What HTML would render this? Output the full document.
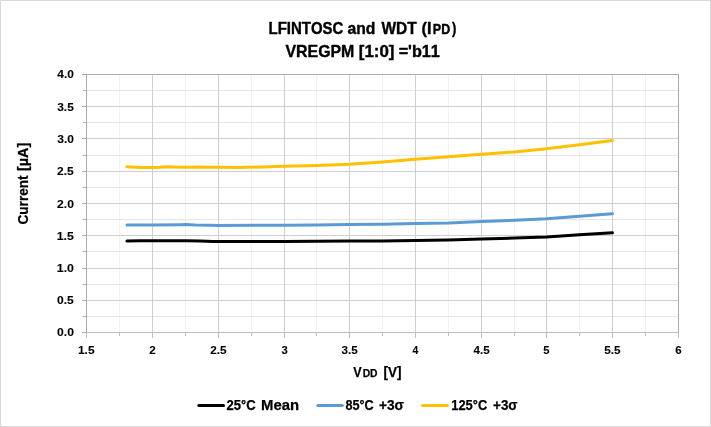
<!DOCTYPE html>
<html><head><meta charset="utf-8"><title>LFINTOSC and WDT (IPD)</title>
<style>html,body{margin:0;padding:0;background:#fff}svg{display:block}</style></head>
<body><svg width="711" height="427" viewBox="0 0 711 427">
<rect x="0.5" y="0.5" width="710" height="426" fill="#fff" stroke="#D9D9D9" stroke-width="1"/>
<g fill="none" stroke-width="1" shape-rendering="crispEdges"><path d="M119.5 74.5V332.5" stroke="#F2F2F2"/><path d="M185.5 74.5V332.5" stroke="#F2F2F2"/><path d="M251.5 74.5V332.5" stroke="#F2F2F2"/><path d="M316.5 74.5V332.5" stroke="#F2F2F2"/><path d="M382.5 74.5V332.5" stroke="#F2F2F2"/><path d="M448.5 74.5V332.5" stroke="#F2F2F2"/><path d="M514.5 74.5V332.5" stroke="#F2F2F2"/><path d="M579.5 74.5V332.5" stroke="#F2F2F2"/><path d="M645.5 74.5V332.5" stroke="#F2F2F2"/><path d="M86.5 316.5H678.5" stroke="#E7E6E6"/><path d="M86.5 284.5H678.5" stroke="#E7E6E6"/><path d="M86.5 251.5H678.5" stroke="#E7E6E6"/><path d="M86.5 219.5H678.5" stroke="#E7E6E6"/><path d="M86.5 187.5H678.5" stroke="#E7E6E6"/><path d="M86.5 155.5H678.5" stroke="#E7E6E6"/><path d="M86.5 122.5H678.5" stroke="#E7E6E6"/><path d="M86.5 90.5H678.5" stroke="#E7E6E6"/><path d="M152.5 74.5V332.5" stroke="#D0CECE"/><path d="M218.5 74.5V332.5" stroke="#D0CECE"/><path d="M284.5 74.5V332.5" stroke="#D0CECE"/><path d="M349.5 74.5V332.5" stroke="#D0CECE"/><path d="M415.5 74.5V332.5" stroke="#D0CECE"/><path d="M481.5 74.5V332.5" stroke="#D0CECE"/><path d="M546.5 74.5V332.5" stroke="#D0CECE"/><path d="M612.5 74.5V332.5" stroke="#D0CECE"/><path d="M86.5 300.5H678.5" stroke="#D0CECE"/><path d="M86.5 268.5H678.5" stroke="#D0CECE"/><path d="M86.5 235.5H678.5" stroke="#D0CECE"/><path d="M86.5 203.5H678.5" stroke="#D0CECE"/><path d="M86.5 171.5H678.5" stroke="#D0CECE"/><path d="M86.5 138.5H678.5" stroke="#D0CECE"/><path d="M86.5 106.5H678.5" stroke="#D0CECE"/><path d="M86.5 332.5v5.5" stroke="#BFBDBD"/><path d="M119.5 332.5v3.5" stroke="#BFBDBD"/><path d="M152.5 332.5v5.5" stroke="#BFBDBD"/><path d="M185.5 332.5v3.5" stroke="#BFBDBD"/><path d="M218.5 332.5v5.5" stroke="#BFBDBD"/><path d="M251.5 332.5v3.5" stroke="#BFBDBD"/><path d="M284.5 332.5v5.5" stroke="#BFBDBD"/><path d="M316.5 332.5v3.5" stroke="#BFBDBD"/><path d="M349.5 332.5v5.5" stroke="#BFBDBD"/><path d="M382.5 332.5v3.5" stroke="#BFBDBD"/><path d="M415.5 332.5v5.5" stroke="#BFBDBD"/><path d="M448.5 332.5v3.5" stroke="#BFBDBD"/><path d="M481.5 332.5v5.5" stroke="#BFBDBD"/><path d="M514.5 332.5v3.5" stroke="#BFBDBD"/><path d="M546.5 332.5v5.5" stroke="#BFBDBD"/><path d="M579.5 332.5v3.5" stroke="#BFBDBD"/><path d="M612.5 332.5v5.5" stroke="#BFBDBD"/><path d="M645.5 332.5v3.5" stroke="#BFBDBD"/><path d="M678.5 332.5v5.5" stroke="#BFBDBD"/><path d="M86.5 332.5h-4.5" stroke="#AEAAAA"/><path d="M86.5 316.5h-3.5" stroke="#AEAAAA"/><path d="M86.5 300.5h-4.5" stroke="#AEAAAA"/><path d="M86.5 284.5h-3.5" stroke="#AEAAAA"/><path d="M86.5 268.5h-4.5" stroke="#AEAAAA"/><path d="M86.5 251.5h-3.5" stroke="#AEAAAA"/><path d="M86.5 235.5h-4.5" stroke="#AEAAAA"/><path d="M86.5 219.5h-3.5" stroke="#AEAAAA"/><path d="M86.5 203.5h-4.5" stroke="#AEAAAA"/><path d="M86.5 187.5h-3.5" stroke="#AEAAAA"/><path d="M86.5 171.5h-4.5" stroke="#AEAAAA"/><path d="M86.5 155.5h-3.5" stroke="#AEAAAA"/><path d="M86.5 138.5h-4.5" stroke="#AEAAAA"/><path d="M86.5 122.5h-3.5" stroke="#AEAAAA"/><path d="M86.5 106.5h-4.5" stroke="#AEAAAA"/><path d="M86.5 90.5h-3.5" stroke="#AEAAAA"/><path d="M86.5 74.5h-4.5" stroke="#AEAAAA"/><path d="M86.0 74.5H679.0" stroke="#ABABAB"/><path d="M678.5 74.0V333.0" stroke="#ABABAB"/><path d="M86.0 332.5H678.0" stroke="#BFBDBD"/><path d="M86.5 74.0V333.0" stroke="#AEAAAA"/></g>
<polyline points="127.0,241.10 140.0,240.80 152.3,240.70 186.0,240.70 200.0,241.00 213.0,241.45 218.5,241.55 284.5,241.60 317.0,241.35 349.5,241.10 382.5,240.95 415.5,240.60 448.5,240.05 481.5,239.05 514.5,238.00 546.5,236.90 579.5,234.80 612.4,232.80" fill="none" stroke="#000000" stroke-width="3" stroke-linecap="round" stroke-linejoin="round"/>
<polyline points="127.0,225.00 152.3,225.00 180.0,224.70 186.0,224.55 195.0,225.05 210.0,225.30 218.5,225.40 284.5,225.35 316.5,224.90 349.5,224.50 382.5,224.20 415.5,223.55 448.5,222.95 481.5,221.60 514.5,220.20 546.5,218.70 579.5,216.30 612.4,213.70" fill="none" stroke="#5B9BD5" stroke-width="3" stroke-linecap="round" stroke-linejoin="round"/>
<polyline points="127.0,166.80 140.0,167.40 152.3,167.50 160.0,167.30 168.0,166.80 175.0,167.10 186.0,167.20 200.0,167.00 210.0,167.20 218.5,167.20 240.0,167.40 262.0,167.00 284.5,166.30 317.0,165.40 349.6,164.35 382.6,162.10 415.4,159.35 448.5,156.80 481.5,154.20 514.5,151.90 546.5,148.80 579.5,144.70 612.4,140.60" fill="none" stroke="#FFC000" stroke-width="3" stroke-linecap="round" stroke-linejoin="round"/>
<path d="M198.8 405.4H223.5" stroke="#000000" stroke-width="3" stroke-linecap="round" fill="none"/>
<path d="M317.8 405.4H342.3" stroke="#5B9BD5" stroke-width="3" stroke-linecap="round" fill="none"/>
<path d="M422.6 405.4H447.4" stroke="#FFC000" stroke-width="3" stroke-linecap="round" fill="none"/>
<g font-family="'Liberation Sans', Arial, sans-serif" font-weight="bold" fill="#000" stroke="#000" stroke-width="0.35" stroke-linejoin="round" style="font-kerning:none"><text stroke-width="0.4" y="33.800"><tspan x="268.60" font-size="16.86" textLength="74.81" lengthAdjust="spacingAndGlyphs">LFINTOSC</tspan> <tspan x="347.44" font-size="16.86" textLength="27.89" lengthAdjust="spacingAndGlyphs">and</tspan> <tspan x="381.48" font-size="16.86" textLength="35.28" lengthAdjust="spacingAndGlyphs">WDT</tspan> <tspan x="421.58" font-size="16.86" textLength="10.01" lengthAdjust="spacingAndGlyphs">(I</tspan><tspan x="432.86" font-size="13.95" textLength="17.36" lengthAdjust="spacingAndGlyphs">PD</tspan><tspan x="451.99" font-size="16.86" textLength="4.37" lengthAdjust="spacingAndGlyphs">)</tspan></text>
<text stroke-width="0.4" y="56.800"><tspan x="285.49" font-size="16.86" textLength="68.87" lengthAdjust="spacingAndGlyphs">VREGPM</tspan> <tspan x="358.75" font-size="16.86" textLength="35.70" lengthAdjust="spacingAndGlyphs">[1:0]</tspan> <tspan x="398.63" font-size="16.86" textLength="41.22" lengthAdjust="spacingAndGlyphs">='b11</tspan></text>
<text stroke-width="0.1" y="77.950"><tspan x="57.37" font-size="11.48" textLength="16.57" lengthAdjust="spacingAndGlyphs">4.0</tspan></text>
<text stroke-width="0.1" y="110.950"><tspan x="57.28" font-size="11.48" textLength="16.50" lengthAdjust="spacingAndGlyphs">3.5</tspan></text>
<text stroke-width="0.1" y="142.950"><tspan x="57.27" font-size="11.48" textLength="16.67" lengthAdjust="spacingAndGlyphs">3.0</tspan></text>
<text stroke-width="0.1" y="174.950"><tspan x="57.13" font-size="11.48" textLength="16.65" lengthAdjust="spacingAndGlyphs">2.5</tspan></text>
<text stroke-width="0.1" y="207.950"><tspan x="57.13" font-size="11.48" textLength="16.82" lengthAdjust="spacingAndGlyphs">2.0</tspan></text>
<text stroke-width="0.1" y="239.950"><tspan x="56.78" font-size="11.48" textLength="17.01" lengthAdjust="spacingAndGlyphs">1.5</tspan></text>
<text stroke-width="0.1" y="271.950"><tspan x="56.77" font-size="11.48" textLength="17.19" lengthAdjust="spacingAndGlyphs">1.0</tspan></text>
<text stroke-width="0.1" y="304.450"><tspan x="57.07" font-size="11.48" textLength="16.71" lengthAdjust="spacingAndGlyphs">0.5</tspan></text>
<text stroke-width="0.1" y="335.950"><tspan x="57.07" font-size="11.48" textLength="16.88" lengthAdjust="spacingAndGlyphs">0.0</tspan></text>
<text stroke-width="0.1" y="353.950"><tspan x="77.94" font-size="11.48" textLength="16.69" lengthAdjust="spacingAndGlyphs">1.5</tspan></text>
<text stroke-width="0.1" y="353.950"><tspan x="149.30" font-size="11.48" textLength="6.47" lengthAdjust="spacingAndGlyphs">2</tspan></text>
<text stroke-width="0.1" y="353.950"><tspan x="210.29" font-size="11.48" textLength="16.33" lengthAdjust="spacingAndGlyphs">2.5</tspan></text>
<text stroke-width="0.1" y="353.950"><tspan x="281.44" font-size="11.48" textLength="6.27" lengthAdjust="spacingAndGlyphs">3</tspan></text>
<text stroke-width="0.1" y="353.950"><tspan x="341.43" font-size="11.48" textLength="16.19" lengthAdjust="spacingAndGlyphs">3.5</tspan></text>
<text stroke-width="0.1" y="353.950"><tspan x="412.54" font-size="11.48" textLength="5.81" lengthAdjust="spacingAndGlyphs">4</tspan></text>
<text stroke-width="0.1" y="353.950"><tspan x="473.52" font-size="11.48" textLength="16.10" lengthAdjust="spacingAndGlyphs">4.5</tspan></text>
<text stroke-width="0.1" y="353.950"><tspan x="543.35" font-size="11.48" textLength="6.26" lengthAdjust="spacingAndGlyphs">5</tspan></text>
<text stroke-width="0.1" y="353.950"><tspan x="604.34" font-size="11.48" textLength="16.29" lengthAdjust="spacingAndGlyphs">5.5</tspan></text>
<text stroke-width="0.1" y="353.950"><tspan x="675.28" font-size="11.48" textLength="6.44" lengthAdjust="spacingAndGlyphs">6</tspan></text>
<text stroke-width="0.25" y="376.875"><tspan x="353.24" font-size="14.17" textLength="8.42" lengthAdjust="spacingAndGlyphs">V</tspan><tspan x="362.64" font-size="10.83" textLength="14.87" lengthAdjust="spacingAndGlyphs">DD</tspan> <tspan x="383.56" font-size="14.17" textLength="18.07" lengthAdjust="spacingAndGlyphs">[V]</tspan></text>
<text stroke-width="0.25" y="409.875"><tspan x="226.47" font-size="14.17" textLength="29.16" lengthAdjust="spacingAndGlyphs">25°C</tspan> <tspan x="261.03" font-size="14.17" textLength="37.96" lengthAdjust="spacingAndGlyphs">Mean</tspan></text>
<text stroke-width="0.25" y="409.875"><tspan x="345.42" font-size="14.17" textLength="28.20" lengthAdjust="spacingAndGlyphs">85°C</tspan> <tspan x="378.95" font-size="14.17" textLength="24.99" lengthAdjust="spacingAndGlyphs">+3σ</tspan></text>
<text stroke-width="0.25" y="409.875"><tspan x="451.21" font-size="14.17" textLength="36.02" lengthAdjust="spacingAndGlyphs">125°C</tspan> <tspan x="493.06" font-size="14.17" textLength="24.48" lengthAdjust="spacingAndGlyphs">+3σ</tspan></text>
<text stroke-width="0.25" transform="translate(27.875 224.4) rotate(-90)" y="0"><tspan x="-0.13" font-size="14.17" textLength="49.17" lengthAdjust="spacingAndGlyphs">Current</tspan> <tspan x="53.42" font-size="14.17" textLength="28.27" lengthAdjust="spacingAndGlyphs">[µA]</tspan></text></g>
</svg></body></html>
